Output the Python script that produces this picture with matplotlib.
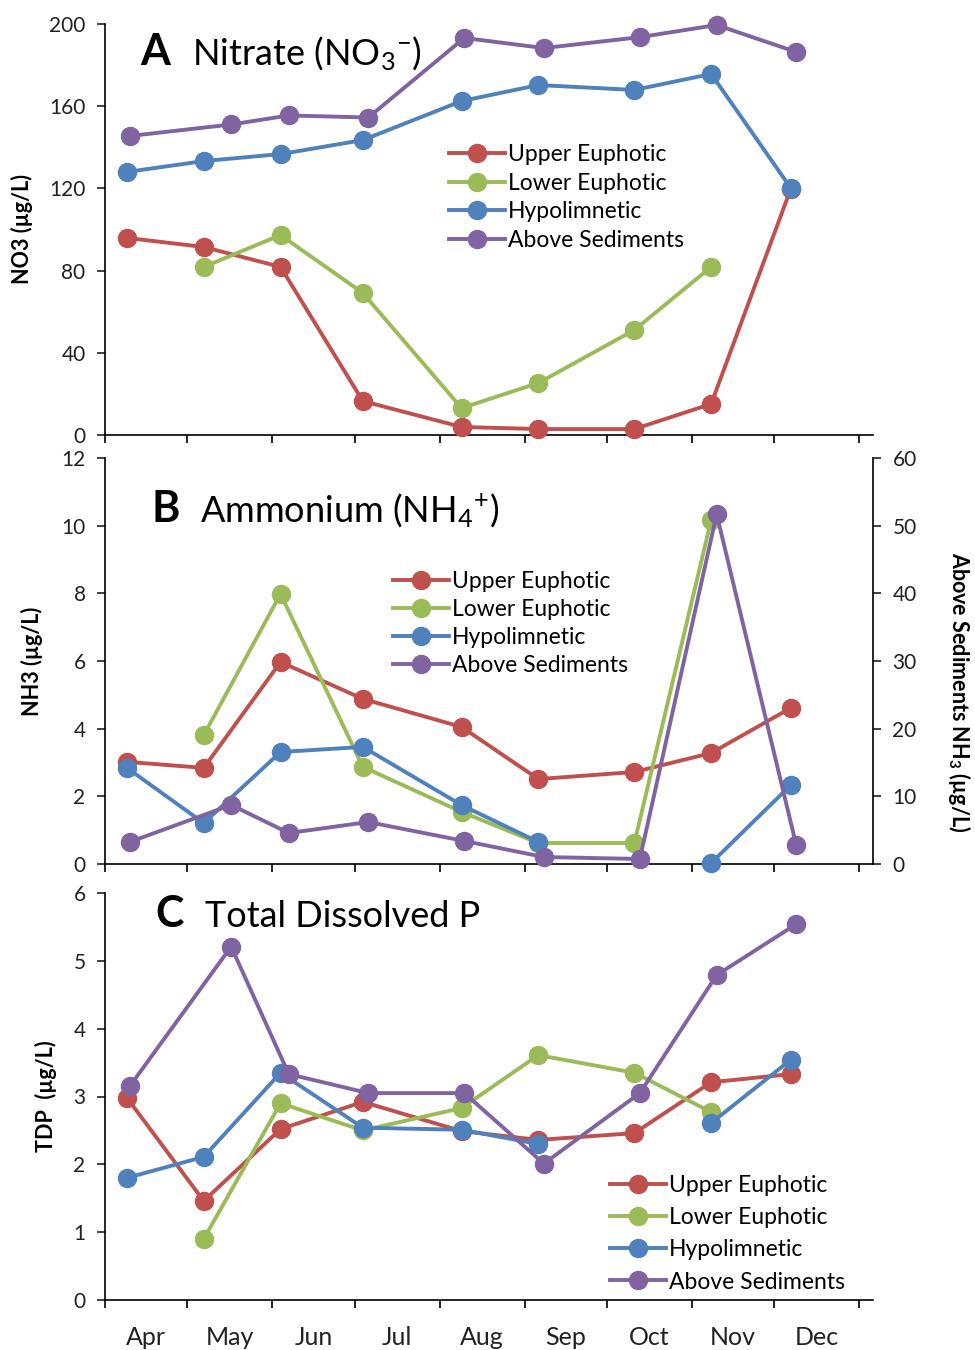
import matplotlib
matplotlib.use("Agg")
import matplotlib.pyplot as plt
import numpy as np
import pandas as pd

plt.rcParams['font.family'] = ['Lato', 'DejaVu Sans']
plt.rcParams['mathtext.fontset'] = 'custom'
plt.rcParams['mathtext.rm'] = 'Lato'
plt.rcParams['mathtext.it'] = 'Lato:italic'
plt.rcParams['mathtext.bf'] = 'Lato:bold'

nan = np.nan

# ---------------- data ----------------
series_names = ["Upper Euphotic", "Lower Euphotic", "Hypolimnetic", "Above Sediments"]
series_colors = ["#C0504D", "#9BBB59", "#4F81BD", "#8064A2"]

sample_dates = ["2014-04-09", "2014-05-07", "2014-06-04", "2014-07-04", "2014-08-09",
                "2014-09-06", "2014-10-11", "2014-11-08", "2014-12-07"]
sediment_dates = ["2014-04-10", "2014-05-17", "2014-06-07", "2014-07-06", "2014-08-10",
                  "2014-09-08", "2014-10-13", "2014-11-10", "2014-12-09"]
month_labels = ["Apr", "May", "Jun", "Jul", "Aug", "Sep", "Oct", "Nov", "Dec"]

no3_upper = [95.9, 91.5, 81.8, 16.5, 3.9, 2.9, 2.9, 15.1, 119.7]
no3_lower = [nan, 81.8, 97.3, 69.1, 13.1, 25.3, 51.1, 81.8, nan]
no3_hypo = [128.0, 133.3, 136.7, 143.5, 162.5, 170.3, 167.9, 175.7, 120.2]
no3_sed = [145.5, 151.1, 155.5, 154.5, 193.2, 188.3, 193.6, 199.5, 186.4]

nh_upper = [3.02, 2.84, 5.97, 4.88, 4.05, 2.51, 2.72, 3.28, 4.61]
nh_lower = [nan, 3.81, 7.98, 2.87, 1.54, 0.62, 0.62, 10.17, nan]
nh_hypo = [2.84, 1.21, 3.31, 3.46, 1.74, 0.65, nan, 0.03, 2.33]
nh_sed = [3.25, 8.72, 4.58, 6.20, 3.40, 1.03, 0.74, 51.7, 2.80]   # right axis

tdp_upper = [2.98, 1.46, 2.52, 2.92, 2.49, 2.36, 2.46, 3.21, 3.33]
tdp_lower = [nan, 0.90, 2.90, 2.50, 2.83, 3.61, 3.35, 2.77, nan]
tdp_hypo = [1.80, 2.11, 3.35, 2.54, 2.51, 2.30, nan, 2.61, 3.54]
tdp_sed = [3.15, 5.21, 3.33, 3.05, 3.05, 2.01, 3.05, 4.79, 5.54]

# ---------------- helpers ----------------
origin = pd.Timestamp("2014-04-01")
def to_days(dates):
    return np.array([(pd.Timestamp(d) - origin).days for d in dates], dtype=float)

x_main = to_days(sample_dates)
x_sed = to_days(sediment_dates)
month_starts = pd.date_range("2014-04-01", "2015-01-01", freq="MS")
bounds = np.array([(m - origin).days for m in month_starts], dtype=float)
mids = (bounds[:-1] + bounds[1:]) / 2

LW = 2.8
MS = 13
TICK_FS = 15
LABEL_FS = 15.5
LEG_FS = 16.5
TITLE_FS = 26
LETTER_FS = 31

fig = plt.figure(figsize=(9.75, 13.5), dpi=100)
W, H = 975, 1350
left, right = 105, 873
def add_ax(top, bottom):
    return fig.add_axes([left / W, (H - bottom) / H, (right - left) / W, (bottom - top) / H])

axA = add_ax(24, 435)
axB = add_ax(458, 864)
axC = add_ax(893, 1300)

def style(ax, show_labels):
    ax.set_xlim(0, 280)
    for s in ['top', 'right']:
        ax.spines[s].set_visible(False)
    for s in ['left', 'bottom']:
        ax.spines[s].set_linewidth(1.2)
    ax.set_xticks(bounds)
    ax.set_xticklabels([])
    ax.tick_params(axis='x', which='major', direction='out', length=6, width=1.2)
    ax.tick_params(axis='y', which='major', direction='out', length=6, width=1.2,
                   labelsize=TICK_FS, pad=8, colors='#222222')
    if show_labels:
        ax.set_xticks(mids, minor=True)
        ax.set_xticklabels(month_labels, minor=True)
        ax.tick_params(axis='x', which='minor', length=0, pad=19, labelsize=18, colors='#222222')

def plot_series(ax, x, y, color, label):
    return ax.plot(x, y, '-o', color=color, lw=LW, ms=MS, mec=color, label=label,
                   clip_on=False, zorder=3)[0]

def add_legend(ax, handles, x, y, spacing):
    ax.legend(handles, series_names, loc='center left', bbox_to_anchor=(x, y),
              frameon=False, fontsize=LEG_FS, handlelength=2.45, handletextpad=0.13,
              labelspacing=spacing, borderpad=0, borderaxespad=0)

# ---------------- Panel A ----------------
style(axA, False)
hA = [plot_series(axA, x_main, no3_upper, series_colors[0], series_names[0]),
      plot_series(axA, x_main, no3_lower, series_colors[1], series_names[1]),
      plot_series(axA, x_main, no3_hypo, series_colors[2], series_names[2]),
      plot_series(axA, x_sed, no3_sed, series_colors[3], series_names[3])]
axA.set_ylim(0, 200)
axA.set_yticks(np.arange(0, 201, 40))
axA.set_ylabel("NO3 (µg/L)", fontsize=LABEL_FS, fontweight='bold')
axA.yaxis.set_label_coords(-0.094, 0.5)
add_legend(axA, hA, 0.448, 0.578, 0.33)
axA.text(0.046, 0.900, "A", transform=axA.transAxes, fontsize=LETTER_FS, fontweight='bold', va='baseline')
axA.text(0.113, 0.900, r"Nitrate (NO$_3$$^{-}$)", transform=axA.transAxes, fontsize=TITLE_FS, va='baseline')

# ---------------- Panel B ----------------
style(axB, False)
axB2 = axB.twinx()
axB2.spines['top'].set_visible(False)
axB2.spines['right'].set_linewidth(1.2)
axB2.spines['left'].set_visible(False)
axB2.spines['bottom'].set_visible(False)
hB = [plot_series(axB, x_main, nh_upper, series_colors[0], series_names[0]),
      plot_series(axB, x_main, nh_lower, series_colors[1], series_names[1]),
      plot_series(axB, x_main, nh_hypo, series_colors[2], series_names[2]),
      plot_series(axB2, x_sed, nh_sed, series_colors[3], series_names[3])]
axB.set_ylim(0, 12)
axB.set_yticks(np.arange(0, 13, 2))
axB2.set_ylim(0, 60)
axB2.set_yticks(np.arange(0, 61, 10))
axB2.tick_params(axis='y', direction='out', length=6, width=1.2, labelsize=TICK_FS, pad=8, colors='#222222')
axB.set_ylabel("NH3 (µg/L)", fontsize=LABEL_FS, fontweight='bold')
axB.yaxis.set_label_coords(-0.081, 0.5)
axB2.set_ylabel(r"Above Sediments NH$_\mathbf{3}$ (µg/L)", fontsize=LABEL_FS, fontweight='bold',
                rotation=270, va='center')
axB2.yaxis.set_label_coords(1.113, 0.424)
add_legend(axB2, hB, 0.375, 0.592, 0.31)
axB2.text(0.061, 0.842, "B", transform=axB.transAxes, fontsize=LETTER_FS, fontweight='bold', va='baseline')
axB2.text(0.124, 0.842, r"Ammonium (NH$_4$$^{+}$)", transform=axB.transAxes, fontsize=TITLE_FS, va='baseline')

# ---------------- Panel C ----------------
style(axC, True)
hC = [plot_series(axC, x_main, tdp_upper, series_colors[0], series_names[0]),
      plot_series(axC, x_main, tdp_lower, series_colors[1], series_names[1]),
      plot_series(axC, x_main, tdp_hypo, series_colors[2], series_names[2]),
      plot_series(axC, x_sed, tdp_sed, series_colors[3], series_names[3])]
axC.set_ylim(0, 6)
axC.set_yticks(np.arange(0, 7, 1))
axC.set_ylabel("TDP  (µg/L)", fontsize=LABEL_FS, fontweight='bold')
axC.yaxis.set_label_coords(-0.0625, 0.5)
add_legend(axC, hC, 0.6576, 0.163, 0.49)
axC.text(0.065, 0.916, "C", transform=axC.transAxes, fontsize=LETTER_FS, fontweight='bold', va='baseline')
axC.text(0.130, 0.916, "Total Dissolved P", transform=axC.transAxes, fontsize=TITLE_FS, va='baseline')

fig.savefig("out.png", dpi=100)
